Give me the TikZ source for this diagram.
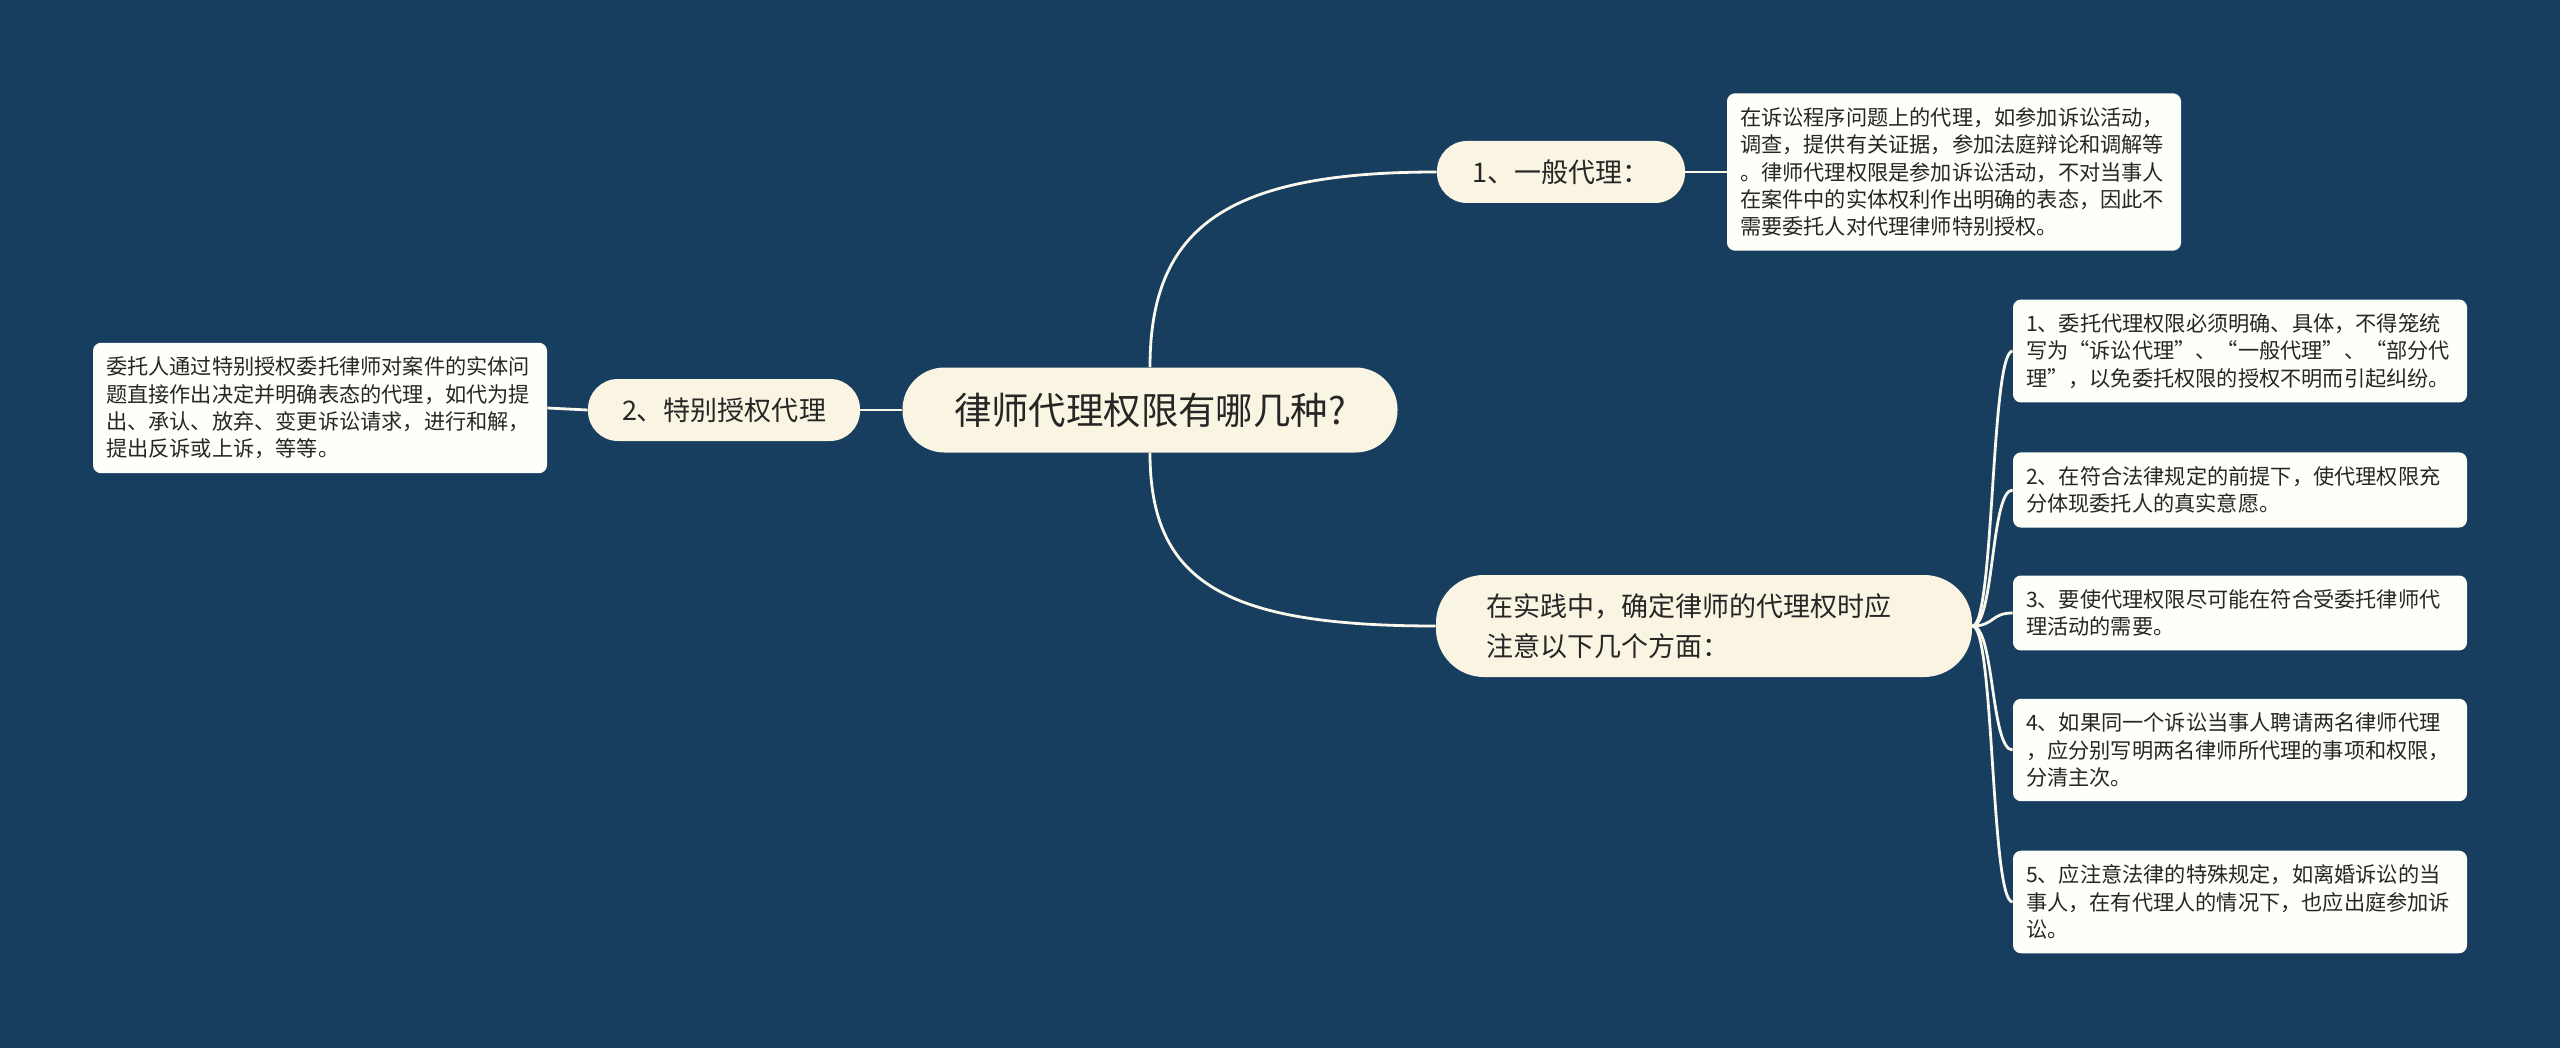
\documentclass[tikz,border=0pt]{standalone}
\usepackage{fontspec}
\setmainfont{Noto Sans CJK SC}
\definecolor{bgblue}{RGB}{23,62,94}
\definecolor{cream}{RGB}{250,245,226}
\definecolor{paper}{RGB}{255,255,250}
\definecolor{ink}{RGB}{38,38,38}
\definecolor{wirecol}{RGB}{250,247,236}
\tikzset{
	rootbox/.style={fill=cream, rounded corners=21pt, minimum width=247.5pt, minimum height=42.5pt, inner sep=0pt, text=ink, font=\fontsize{18.7}{22}\selectfont},
	topic/.style={fill=cream, rounded corners=15pt, minimum height=31pt, inner sep=0pt, text=ink, font=\fontsize{13.5}{20}\selectfont},
	note/.style={fill=paper, rounded corners=4pt, text width=214pt, inner xsep=6.5pt, inner ysep=7pt, align=left, text=ink, font=\fontsize{10.6}{13.7}\selectfont},
	wire/.style={draw=wirecol, line width=1.4pt}
}
\begin{document}
\begin{tikzpicture}[x=0.5pt, y=-0.5pt]
	\fill[bgblue] (0,0) rectangle (2560,1048);
	% main topic and branches
	\node[rootbox] (root) at (1150,410) {律师代理权限有哪几种?};
	\node[topic, minimum width=124pt] (general) at (1561,172) {1、一般代理：};
	\node[topic, minimum width=136pt] (special) at (724,410) {2、特别授权代理};
	\node[topic, rounded corners=24pt, minimum height=51pt, text width=218pt, inner xsep=25pt, align=left] (practice) at (1704,626) {在实践中，确定律师的代理权时应\\注意以下几个方面：};
	% notes
	\node[note] (generalnote) at (1954,172) {在诉讼程序问题上的代理，如参加诉讼活动，\\调查，提供有关证据，参加法庭辩论和调解等\\。律师代理权限是参加诉讼活动，不对当事人\\在案件中的实体权利作出明确的表态，因此不\\需要委托人对代理律师特别授权。};
	\node[note] (specialnote) at (320,408) {委托人通过特别授权委托律师对案件的实体问\\题直接作出决定并明确表态的代理，如代为提\\出、承认、放弃、变更诉讼请求，进行和解，\\提出反诉或上诉，等等。};
	\foreach \y/\txt [count=\i] in {351/{1、委托代理权限必须明确、具体，不得笼统\\写为“诉讼代理”、“一般代理”、“部分代\\理”，以免委托权限的授权不明而引起纠纷。},
		490/{2、在符合法律规定的前提下，使代理权限充\\分体现委托人的真实意愿。},
		613/{3、要使代理权限尽可能在符合受委托律师代\\理活动的需要。},
		750/{4、如果同一个诉讼当事人聘请两名律师代理\\，应分别写明两名律师所代理的事项和权限，\\分清主次。},
		902/{5、应注意法律的特殊规定，如离婚诉讼的当\\事人，在有代理人的情况下，也应出庭参加诉\\讼。}}
	\node[note] (tip\i) at (2240,\y) {\txt};
	% connectors
	\draw[wire] (root.west) -- (special.east);
	\draw[wire] (special.west) -- (specialnote.east);
	\draw[wire] (general.east) -- (generalnote.west);
	\draw[wire] (root.north) .. controls +(0,-140) and +(-210,0) .. (general.west);
	\draw[wire] (root.south) .. controls +(0,130) and +(-210,0) .. (practice.west);
	\foreach \i in {1,...,5}
	\draw[wire] (practice.east) .. controls +(22,0) and +(-22,0) .. (tip\i.west);
\end{tikzpicture}
\end{document}
